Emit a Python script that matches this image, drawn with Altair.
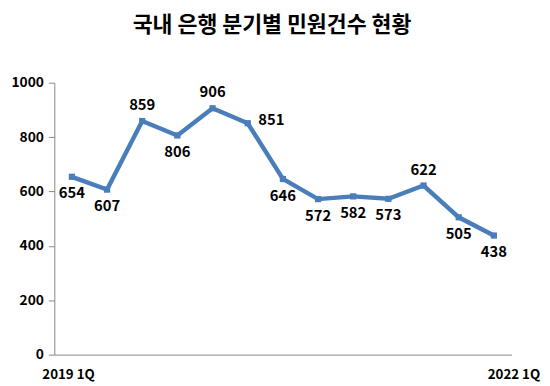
import altair as alt
import pandas as pd

quarters = ["2019 1Q", "2019 2Q", "2019 3Q", "2019 4Q", "2020 1Q", "2020 2Q", "2020 3Q",
            "2020 4Q", "2021 1Q", "2021 2Q", "2021 3Q", "2021 4Q", "2022 1Q"]
counts = [654, 607, 859, 806, 906, 851, 646, 572, 582, 573, 622, 505, 438]
label_pos = ["below", "below", "above", "below", "above", "right", "below",
             "below", "below", "below", "above", "below", "below"]
edge_labels = ["2019 1Q", "2022 1Q"]
title_text = "국내 은행 분기별 민원건수 현황"

df = pd.DataFrame({"q": quarters, "v": counts, "pos": label_pos})
edge_df = pd.DataFrame({"q": edge_labels, "side": ["left", "right"]})

FONT = "Noto Sans CJK KR"
BLUE = "#4A7EBB"
W, H = 464, 276

x = alt.X("q:O", sort=quarters,
          scale=alt.Scale(type="point", padding=0.5, domain=quarters),
          axis=alt.Axis(title=None, labels=False, ticks=False, domainColor="#868686",
                        domainWidth=1, grid=False))
y = alt.Y("v:Q", scale=alt.Scale(domain=[0, 1000]),
          axis=alt.Axis(title=None, values=[0, 200, 400, 600, 800, 1000], grid=False,
                        format="d",
                        domainColor="#868686", tickColor="#868686", tickSize=6,
                        labelFont=FONT, labelFontSize=14, labelFontWeight="bold",
                        labelColor="#000000", labelPadding=5))

base = alt.Chart(df)
line = base.mark_line(color=BLUE, strokeWidth=4.5).encode(x=x, y=y)
pts = base.mark_square(color=BLUE, size=40, opacity=1).encode(x=x, y=y)

def lab(pos, **kw):
    return base.transform_filter(alt.datum.pos == pos).mark_text(
        font=FONT, fontSize=15, fontWeight="bold", color="#000000", **kw
    ).encode(x=x, y=y, text="v:Q")

above = lab("above", dy=-16)
below = lab("below", dy=17)
right = lab("right", dx=24, dy=-3)

edge_base = alt.Chart(edge_df)
edge_l = edge_base.transform_filter(alt.datum.side == "left").mark_text(
    font=FONT, fontSize=13.5, fontWeight="bold", color="#000000", align="left", dx=-30
).encode(x=x, y=alt.value(H + 21), text="q:N")
edge_r = edge_base.transform_filter(alt.datum.side == "right").mark_text(
    font=FONT, fontSize=13.5, fontWeight="bold", color="#000000", align="right", dx=47
).encode(x=x, y=alt.value(H + 21), text="q:N")

chart = alt.layer(line, pts, above, below, right, edge_l, edge_r).properties(
    width=W, height=H,
    background="#ffffff",
    title=alt.TitleParams(title_text, font=FONT, fontSize=22, fontWeight="bold",
                          color="#000000", anchor="middle", dx=-11, offset=39),
    autosize=alt.AutoSizeParams(type="none"),
    padding={"left": 47, "top": 73, "right": 31, "bottom": 29},
).configure_view(stroke=None)

chart.save("out.html", embed_options={"renderer": "svg", "actions": False})
